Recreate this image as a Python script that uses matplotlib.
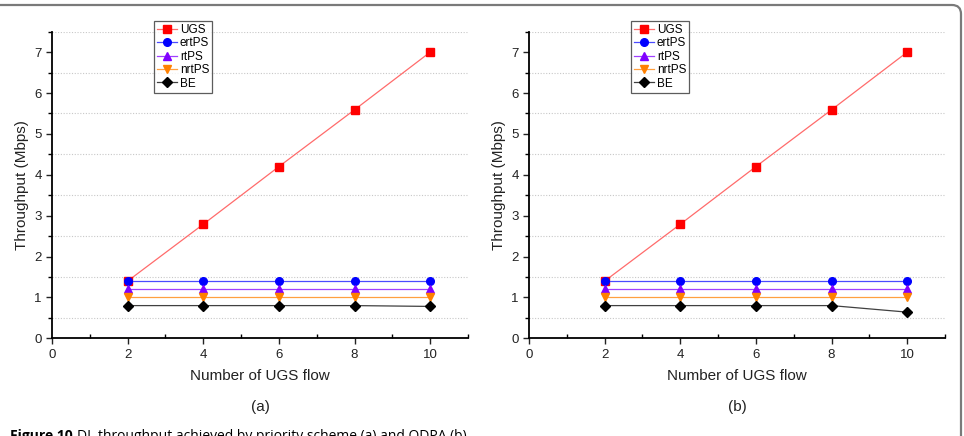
import matplotlib.pyplot as plt
from matplotlib.patches import FancyBboxPatch
from matplotlib.transforms import IdentityTransform
from matplotlib.ticker import MultipleLocator

plt.rcParams['font.family'] = ['Liberation Sans', 'DejaVu Sans']

flujos = [2, 4, 6, 8, 10]

ugs = [1.4, 2.79, 4.2, 5.59, 7.0]
ertps = [1.4, 1.4, 1.4, 1.4, 1.4]
rtps = [1.2, 1.2, 1.2, 1.2, 1.2]
nrtps = [1.0, 1.0, 1.0, 1.0, 1.0]
be_a = [0.8, 0.8, 0.8, 0.8, 0.78]
be_b = [0.8, 0.8, 0.8, 0.8, 0.64]

nombres = ["UGS", "ertPS", "rtPS", "nrtPS", "BE"]
subtitulos = ["(a)", "(b)"]


def dibujar_panel(ax, be, leg_x):
    # (serie, color linea, color marcador, marcador)
    series = [
        (ugs, "#ff6b6b", "#ff0000", "s"),
        (ertps, "#4a4aff", "#0000ff", "o"),
        (rtps, "#a040ff", "#8000ff", "^"),
        (nrtps, "#ffa040", "#ff8000", "v"),
        (be, "#404040", "#000000", "D"),
    ]
    for (vals, clinea, cmarca, marca), nombre in zip(series, nombres):
        ax.plot(flujos, vals, color=clinea, lw=0.9, marker=marca,
                markerfacecolor=cmarca, markeredgecolor=cmarca,
                markersize=5.5 if marca != "D" else 5, label=nombre)

    ax.set_xlim(0, 11)
    ax.set_ylim(0, 7.5)
    ax.xaxis.set_major_locator(MultipleLocator(2))
    ax.xaxis.set_minor_locator(MultipleLocator(1))
    ax.yaxis.set_major_locator(MultipleLocator(1))
    ax.yaxis.set_minor_locator(MultipleLocator(0.5))
    ax.spines['top'].set_visible(False)
    ax.spines['right'].set_visible(False)
    ax.spines['left'].set_linewidth(1.3)
    ax.spines['bottom'].set_linewidth(1.3)
    ax.tick_params(axis='both', which='major', direction='out', length=4,
                   width=1, labelsize=9.5, colors='#222222')
    ax.tick_params(axis='x', which='minor', direction='in', length=3, width=1)
    ax.tick_params(axis='y', which='minor', direction='out', length=3, width=1)
    ax.grid(True, which='minor', axis='y', linestyle=(0, (1, 1.5)),
            color='#c8c8c8', lw=0.8)
    ax.set_xlabel("Number of UGS flow", fontsize=11, labelpad=6, color='#222222')
    ax.set_ylabel("Throughput (Mbps)", fontsize=11, labelpad=4, color='#222222')

    ley = ax.legend(loc='upper left', bbox_to_anchor=(leg_x, 1 - 21 / 436),
                    bbox_transform=fig.transFigure, fontsize=8.5,
                    frameon=True, fancybox=False, edgecolor='#333333',
                    handlelength=1.7, handletextpad=0.25, borderpad=0.25,
                    labelspacing=0.12, borderaxespad=0, markerscale=1.0)
    ley.get_frame().set_linewidth(0.9)


fig = plt.figure(figsize=(9.64, 4.36), dpi=100)

ax_a = fig.add_axes([52 / 964, 1 - 338.3 / 436, 416 / 964, 306.6 / 436])
ax_b = fig.add_axes([529 / 964, 1 - 338.3 / 436, 416 / 964, 306.6 / 436])

dibujar_panel(ax_a, be_a, 154 / 964)
dibujar_panel(ax_b, be_b, 631 / 964)

fig.text(260 / 964, 1 - 407 / 436, subtitulos[0], ha='center', va='center',
         fontsize=11, color='#222222')
fig.text(737 / 964, 1 - 407 / 436, subtitulos[1], ha='center', va='center',
         fontsize=11, color='#222222')

# pie de figura (cortado por el borde inferior, como en el original)
t1 = fig.text(10 / 964, 1 - 429 / 436, "Figure 10", ha='left', va='top',
              fontsize=10, fontweight='bold', family=['Open Sans', 'DejaVu Sans'])
fig.canvas.draw()
bb = t1.get_window_extent()
fig.text((bb.x1 + 4) / 964, 1 - 429 / 436,
         "DL throughput achieved by priority scheme (a) and ODPA (b).",
         ha='left', va='top', fontsize=10, family=['Open Sans', 'DejaVu Sans'])

# marco redondeado
marco = FancyBboxPatch((-30, -30), 961 + 30, 431 + 30,
                       boxstyle="round,pad=0,rounding_size=9",
                       transform=IdentityTransform(), fill=False,
                       edgecolor='#7a7a7a', lw=1.6)
fig.patches.append(marco)

fig.savefig("out.png", dpi=100)
